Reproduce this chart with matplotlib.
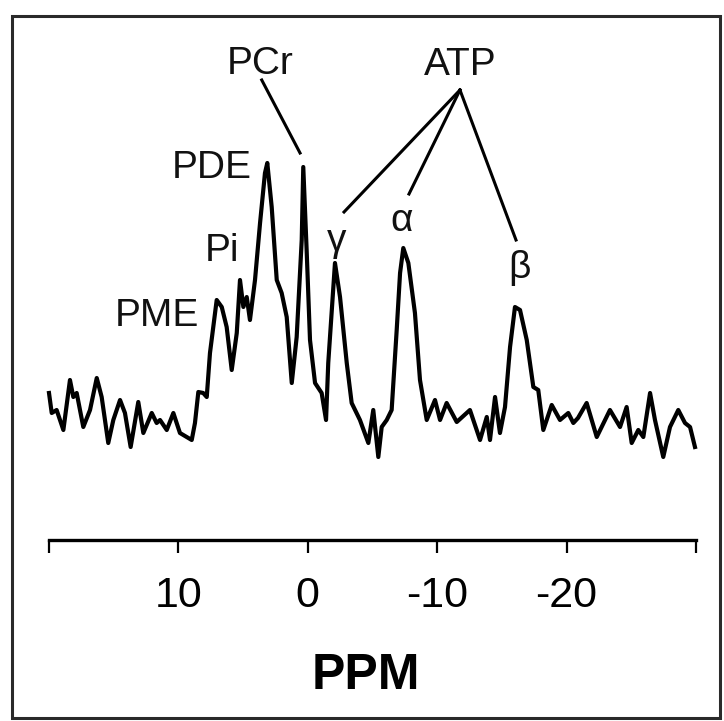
import matplotlib
matplotlib.use("Agg")
import matplotlib.pyplot as plt
from matplotlib.patches import Rectangle

plt.rcParams["font.family"] = ["Liberation Sans", "DejaVu Sans"]

# 31P spectrum: chemical shift (ppm) and intensity (a.u.)
ppm = [
    20.0, 19.79, 19.41, 18.89, 18.38, 18.12, 17.86, 17.35, 16.83, 16.31,
    15.93, 15.42, 15.03, 14.51, 14.13, 13.69, 13.10, 12.71, 12.06, 11.68,
    11.42, 10.90, 10.39, 9.88, 8.97, 8.72, 8.46, 8.08, 7.81, 7.56,
    7.04, 6.65, 6.27, 5.88, 5.49, 5.24, 4.98, 4.72, 4.47, 4.08,
    3.69, 3.31, 3.13, 2.79, 2.40, 2.02, 1.63, 1.24, 0.86, 0.47,
    0.35, 0.09, -0.17, -0.56, -1.07, -1.41, -1.58, -2.10, -2.49, -3.01,
    -3.39, -4.03, -4.68, -5.06, -5.45, -5.71, -6.10, -6.48, -6.87, -7.13,
    -7.38, -7.77, -8.28, -8.67, -9.19, -9.83, -10.22, -10.73, -11.51, -12.53,
    -13.31, -13.83, -14.08, -14.47, -14.85, -15.24, -15.63, -16.01, -16.40, -16.92,
    -17.43, -17.81, -18.20, -18.85, -19.49, -20.13, -20.52, -20.88, -21.55, -22.33,
    -23.35, -24.13, -24.64, -25.03, -25.54, -25.93, -26.45, -26.83, -27.47, -27.99,
    -28.63, -29.15, -29.54, -29.92,
]
intensity = [
    14.7, 12.7, 13.0, 11.0, 16.0, 14.3, 14.7, 11.3, 13.0, 16.2,
    14.3, 9.7, 12.0, 14.0, 12.7, 9.3, 13.8, 10.7, 12.7, 11.7,
    12.0, 11.0, 12.7, 10.7, 10.0, 11.7, 14.8, 14.7, 14.3, 18.7,
    24.0, 23.3, 21.3, 17.0, 20.7, 26.0, 23.3, 24.3, 22.0, 26.0,
    31.7, 36.7, 37.7, 33.3, 26.0, 24.7, 22.3, 15.7, 20.3, 30.0,
    37.3, 29.0, 20.0, 15.7, 14.7, 12.0, 17.7, 27.7, 24.3, 17.7,
    13.7, 12.0, 9.7, 13.0, 8.3, 11.3, 12.0, 13.0, 21.0, 26.7,
    29.2, 27.7, 22.7, 16.0, 12.0, 14.0, 12.0, 13.7, 11.8, 13.0,
    10.0, 12.3, 10.0, 14.3, 10.7, 13.3, 19.3, 23.3, 23.0, 20.0,
    15.3, 15.0, 11.0, 13.5, 12.0, 12.7, 11.7, 12.2, 13.7, 10.3,
    13.0, 11.3, 13.3, 9.7, 11.0, 10.3, 14.7, 12.0, 8.3, 11.3,
    13.0, 11.7, 11.3, 9.3,
]

tick_values = [20, 10, 0, -10, -20, -30]
tick_labels = ["", "10", "0", "-10", "-20", ""]

# peak labels: text, ppm, intensity, vertical alignment
peak_labels = [
    ("PME", 11.65, 21.4, "baseline"),
    ("Pi", 6.63, 27.9, "baseline"),
    ("PDE", 7.40, 36.2, "baseline"),
    ("PCr", 3.69, 46.6, "baseline"),
    ("ATP", -11.76, 46.5, "baseline"),
    ("\u03b3", -2.26, 29.9, "center"),
    ("\u03b1", -7.25, 31.9, "center"),
    ("\u03b2", -16.32, 27.2, "center"),
]

# leader lines from the labels down to the peaks
pcr_line = ([3.56, 0.60], [46.0, 38.7])
atp_apex = (-11.76, 45.0)
atp_ends = [(-2.80, 32.8), (-7.82, 34.6), (-16.09, 30.0)]

fig = plt.figure(figsize=(7.24, 7.21), dpi=100)
fig.patch.set_facecolor("white")

# outer frame of the scanned panel
fig.patches.append(Rectangle((12 / 724, 3 / 721), 708 / 724, 702 / 721,
                             transform=fig.transFigure, fill=False,
                             edgecolor="#2a2a2a", linewidth=2.2))

ax = fig.add_axes([49 / 724, 181 / 721, 647 / 724, 500 / 721])
ax.plot(ppm, intensity, color="black", linewidth=3.0, solid_joinstyle="round", clip_on=False)

for text, x, y, va in peak_labels:
    ax.text(x, y, text, ha="center", va=va, fontsize=28, color="#111111", clip_on=False)

ax.plot(pcr_line[0], pcr_line[1], color="black", linewidth=2.2, clip_on=False)
for ex, ey in atp_ends:
    ax.plot([atp_apex[0], ex], [atp_apex[1], ey], color="black", linewidth=2.2, clip_on=False)

ax.set_xlim(20, -30)
ax.set_ylim(0, 50)
for side in ["left", "right", "top"]:
    ax.spines[side].set_visible(False)
ax.spines["bottom"].set_linewidth(2.4)
ax.set_yticks([])
ax.set_xticks(tick_values)
ax.set_xticklabels(tick_labels)
ax.tick_params(axis="x", direction="out", length=9, width=1.6, pad=17, labelsize=31)
ax.set_xlabel("PPM", fontsize=36, fontweight="bold")
ax.xaxis.set_label_coords((366 - 49) / 647, -0.226)
ax.patch.set_alpha(0)

fig.savefig("out.png", dpi=100, facecolor="white")
